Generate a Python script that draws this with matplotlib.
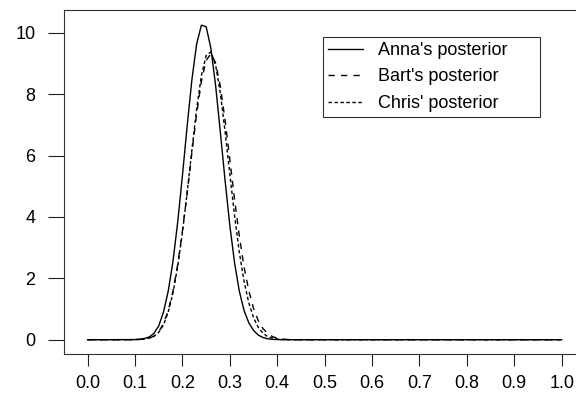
import numpy as np
import matplotlib
matplotlib.use("Agg")
import matplotlib.pyplot as plt

plt.rcParams['font.family'] = ['Liberation Sans', 'DejaVu Sans']

# values
x_vals = [0.00, 0.05, 0.10, 0.11, 0.12, 0.13, 0.14, 0.15, 0.16, 0.17,
          0.18, 0.19, 0.20, 0.21, 0.22, 0.23, 0.24, 0.25, 0.26, 0.27,
          0.28, 0.29, 0.30, 0.31, 0.32, 0.33, 0.34, 0.35, 0.36, 0.37,
          0.38, 0.39, 0.40, 0.41, 0.42, 0.43, 0.44, 0.45, 0.50, 1.00]
anna = [0, 0, 0.005, 0.015, 0.04, 0.09, 0.21, 0.45, 0.90, 1.58,
        2.55, 3.83, 5.35, 6.97, 8.48, 9.64, 10.25, 10.20, 9.50, 8.28,
        6.76, 5.18, 3.72, 2.50, 1.58, 0.95, 0.55, 0.30, 0.15, 0.07,
        0.03, 0.01, 0.005, 0, 0, 0, 0, 0, 0, 0]
bart = [0, 0, 0, 0.01, 0.02, 0.05, 0.12, 0.26, 0.52, 0.95,
        1.58, 2.45, 3.55, 4.78, 6.10, 7.37, 8.42, 9.10, 9.32, 9.02,
        8.25, 7.15, 5.87, 4.57, 3.38, 2.37, 1.60, 1.02, 0.62, 0.36,
        0.20, 0.10, 0.05, 0.02, 0.01, 0, 0, 0, 0, 0]
chris = [0, 0, 0, 0.01, 0.02, 0.05, 0.11, 0.24, 0.48, 0.90,
         1.52, 2.39, 3.49, 4.80, 6.19, 7.53, 8.61, 9.26, 9.38, 8.95,
         8.03, 6.78, 5.40, 4.04, 2.85, 1.90, 1.20, 0.72, 0.40, 0.21,
         0.10, 0.05, 0.02, 0.01, 0, 0, 0, 0, 0, 0]
labels = ["Anna's posterior", "Bart's posterior", "Chris' posterior"]
x_ticks = [0.0, 0.1, 0.2, 0.3, 0.4, 0.5, 0.6, 0.7, 0.8, 0.9, 1.0]
y_ticks = [0, 2, 4, 6, 8, 10]

fig = plt.figure(figsize=(5.76, 3.94), dpi=100)
# right edge of the box falls just outside the picture, as in the scan
ax = fig.add_axes([0.111, 0.102, 0.897, 0.873])

ax.plot(x_vals, anna, color="black", lw=1.0, ls="-", label=labels[0])
ax.plot(x_vals, bart, color="black", lw=1.0, ls=(0, (4.5, 4.5)), label=labels[1])
ax.plot(x_vals, chris, color="black", lw=1.0, ls=(0, (2.5, 1.8)), label=labels[2])

ax.set_xlim(-0.05, 1.04)
ax.set_ylim(-0.46, 10.75)
ax.set_xticks(x_ticks)
ax.set_xticklabels(["%.1f" % t for t in x_ticks])
ax.set_yticks(y_ticks)
ax.tick_params(axis="both", labelsize=13, width=0.8, color="#222222")
ax.tick_params(axis="x", length=8.6, pad=7)
ax.tick_params(axis="y", length=11.5, pad=9)
for s in ax.spines.values():
    s.set_linewidth(0.8)
    s.set_color("#333333")

leg = ax.legend(loc="upper left", bbox_to_anchor=(0.501, 0.690, 0.42, 0.232),
                mode="expand", fontsize=13, frameon=True, fancybox=False,
                edgecolor="black", handlelength=1.95, handletextpad=0.83,
                borderpad=0.3, labelspacing=0.52, borderaxespad=0)
leg.get_frame().set_linewidth(0.8)

fig.savefig("out.png", dpi=100)
